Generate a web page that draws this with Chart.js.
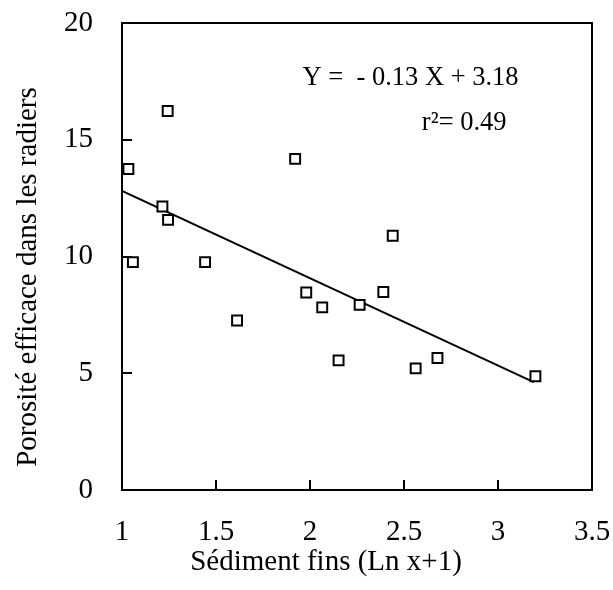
<!DOCTYPE html>
<html>
<head>
<meta charset="utf-8">
<script src="https://cdn.jsdelivr.net/npm/chart.js@4.4.0/dist/chart.umd.min.js"></script>
<style>
  html, body { margin: 0; padding: 0; background: #fff; }
</style>
</head>
<body>
<canvas id="chart" width="613" height="590"></canvas>
<script>
// values
var sediment = [1.034, 1.243, 1.921, 1.215, 1.245, 2.440, 1.058, 1.442, 1.980,
                2.065, 1.612, 2.264, 2.390, 2.152, 2.562, 2.678, 3.199];
var porosite = [13.75, 16.23, 14.18, 12.14, 11.57, 10.89, 9.76, 9.76, 8.46,
                7.82, 7.26, 7.93, 8.48, 5.55, 5.21, 5.65, 4.87];
var fitX = [1, 3.19];
var fitY = [12.81, 4.62];
var xTicks = [1, 1.5, 2, 2.5, 3, 3.5];
var yTicks = [0, 5, 10, 15, 20];
var xTitle = "Sédiment fins (Ln x+1)";
var yTitle = "Porosité efficace dans les radiers";
var notes = [
  { text: "Y =  - 0.13 X + 3.18", x: 1.96, y: 17.35 },
  { text: "r²= 0.49", x: 2.595, y: 15.425 }
];

var FONT = '"Liberation Serif", "Times New Roman", serif';

function pts(xs, ys) {
  var out = [];
  for (var i = 0; i < xs.length; i++) out.push({ x: xs[i], y: ys[i] });
  return out;
}

// box round the plot, regression note and axis titles
var extras = {
  id: 'extras',
  afterDraw: function (chart) {
    var ctx = chart.ctx, a = chart.chartArea;
    var sx = chart.scales.x, sy = chart.scales.y;
    ctx.save();
    ctx.strokeStyle = '#000';
    ctx.lineWidth = 2;
    ctx.strokeRect(a.left, a.top, a.right - a.left, a.bottom - a.top);

    ctx.fillStyle = '#000';
    ctx.textBaseline = 'alphabetic';
    ctx.textAlign = 'left';
    ctx.font = '26.5px ' + FONT;
    notes.forEach(function (n) {
      ctx.fillText(n.text, sx.getPixelForValue(n.x), sy.getPixelForValue(n.y));
    });

    ctx.font = '29px ' + FONT;
    ctx.textAlign = 'center';
    ctx.fillText(xTitle, 326, 570);

    ctx.translate(36, 277);
    ctx.rotate(-Math.PI / 2);
    ctx.fillText(yTitle, 0, 0);
    ctx.restore();
  }
};

function axis(ticks, pad, size) {
  return {
    type: 'linear',
    min: ticks[0],
    max: ticks[ticks.length - 1],
    afterBuildTicks: function (s) {
      s.ticks = ticks.map(function (v) { return { value: v }; });
    },
    afterFit: function (s) {
      if (s.isHorizontal()) s.height = size; else s.width = size;
      s.paddingTop = s.paddingBottom = s.paddingLeft = s.paddingRight = 0;
    },
    grid: { drawOnChartArea: false, drawTicks: true, tickLength: -10, color: '#000', lineWidth: 2 },
    border: { display: false },
    ticks: {
      color: '#000',
      padding: pad,
      font: { family: FONT, size: 29 },
      callback: function (v) { return String(v); }
    }
  };
}

new Chart(document.getElementById('chart'), {
  type: 'scatter',
  data: {
    datasets: [
      {
        data: pts(sediment, porosite),
        pointStyle: 'rect',
        pointRadius: 7,
        pointBorderWidth: 2,
        pointBackgroundColor: '#fff',
        pointBorderColor: '#000'
      },
      {
        data: pts(fitX, fitY),
        showLine: true,
        borderColor: '#000',
        borderWidth: 2,
        pointRadius: 0
      }
    ]
  },
  options: {
    responsive: false,
    animation: false,
    layout: { padding: { top: 23, right: 21, left: 0, bottom: 0 } },
    plugins: { legend: { display: false }, tooltip: { enabled: false } },
    scales: {
      x: axis(xTicks, 35, 100),
      y: axis(yTicks, 39, 122)
    }
  },
  plugins: [extras]
});
</script>
</body>
</html>
